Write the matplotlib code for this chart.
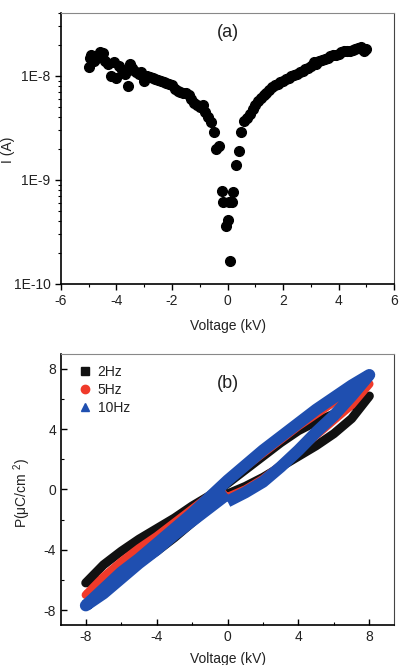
import matplotlib
matplotlib.use('Agg')
import matplotlib.pyplot as plt
from matplotlib.lines import Line2D
from matplotlib.ticker import FixedLocator, FuncFormatter, LogLocator, NullFormatter

plt.rcParams['font.family'] = ['Liberation Sans', 'DejaVu Sans']
plt.rcParams['mathtext.fontset'] = 'custom'
plt.rcParams['mathtext.rm'] = 'Liberation Sans'
plt.rcParams['mathtext.it'] = 'Liberation Sans:italic'
plt.rcParams['axes.unicode_minus'] = False

# (a) I-V data
volt_iv = [-5.0, -4.95, -4.9, -4.8, -4.75, -4.7, -4.6, -4.55, -4.5, -4.4, -4.3, -4.2, -4.1,
           -4.0, -3.9, -3.8, -3.7, -3.6, -3.5, -3.45, -3.4, -3.3, -3.2, -3.1, -3.0, -2.9,
           -2.8, -2.7, -2.6, -2.5, -2.4, -2.3, -2.2, -2.1, -2.0, -1.9, -1.8, -1.7, -1.6,
           -1.5, -1.4, -1.3, -1.2, -1.1, -1.0, -0.9, -0.8, -0.7, -0.6, -0.5, -0.4, -0.3,
           -0.2, -0.15, -0.05, 0.0, 0.05, 0.1, 0.15, 0.2, 0.3, 0.4, 0.5, 0.6, 0.7, 0.8,
           0.9, 1.0, 1.1, 1.2, 1.3, 1.4, 1.5, 1.6, 1.7, 1.8, 1.9, 2.0, 2.1, 2.2, 2.3, 2.4,
           2.5, 2.6, 2.7, 2.8, 2.9, 3.0, 3.1, 3.2, 3.3, 3.4, 3.5, 3.6, 3.7, 3.8, 3.9, 4.0,
           4.1, 4.2, 4.3, 4.4, 4.5, 4.6, 4.7, 4.8, 4.85, 4.9, 5.0]
curr_iv = [1.22e-8, 1.5e-8, 1.6e-8, 1.4e-8, 1.55e-8, 1.5e-8, 1.7e-8, 1.6e-8, 1.65e-8, 1.4e-8,
           1.3e-8, 1.0e-8, 1.35e-8, 9.5e-9, 1.25e-8, 1.15e-8, 1.05e-8, 8.0e-9, 1.3e-8, 1.2e-8,
           1.15e-8, 1.1e-8, 1.05e-8, 1.1e-8, 9.0e-9, 1.0e-8, 9.7e-9, 9.5e-9, 9.3e-9, 9.1e-9,
           8.9e-9, 8.7e-9, 8.5e-9, 8.3e-9, 8.2e-9, 7.5e-9, 7.2e-9, 7.0e-9, 6.8e-9, 6.9e-9,
           6.6e-9, 6.0e-9, 5.5e-9, 5.2e-9, 5.0e-9, 5.2e-9, 4.5e-9, 4.0e-9, 3.6e-9, 2.9e-9,
           2.0e-9, 2.1e-9, 7.8e-10, 6.2e-10, 3.6e-10, 4.1e-10, 6.2e-10, 1.65e-10, 6.2e-10,
           7.6e-10, 1.4e-9, 1.9e-9, 2.9e-9, 3.7e-9, 3.9e-9, 4.3e-9, 4.8e-9, 5.3e-9, 5.7e-9,
           6.1e-9, 6.5e-9, 6.9e-9, 7.3e-9, 7.8e-9, 8.1e-9, 8.4e-9, 8.7e-9, 9.0e-9, 9.3e-9,
           9.6e-9, 9.9e-9, 1.02e-8, 1.05e-8, 1.08e-8, 1.12e-8, 1.17e-8, 1.2e-8, 1.25e-8,
           1.35e-8, 1.3e-8, 1.38e-8, 1.42e-8, 1.46e-8, 1.5e-8, 1.55e-8, 1.58e-8, 1.6e-8,
           1.62e-8, 1.68e-8, 1.72e-8, 1.74e-8, 1.75e-8, 1.78e-8, 1.8e-8, 1.84e-8, 1.9e-8,
           1.8e-8, 1.75e-8, 1.82e-8]

# (b) P-E loops (path order: virgin branch 0->8, descending 8->-8, ascending -8->0)
volt_loop = [0, 1, 2, 3, 4, 5, 6, 7, 8,
             7, 6, 5, 4, 3, 2, 1, 0, -1, -2, -3, -4, -5, -6, -7, -8,
             -7, -6, -5, -4, -3, -2, -1, 0]
pol_2hz = [-0.3, 0.2, 0.8, 1.5, 2.2, 2.9, 3.7, 4.7, 6.2,
           5.6, 5.0, 4.5, 3.9, 3.1, 2.2, 1.3, 0.4, -0.4, -1.1, -1.9, -2.6, -3.3, -4.1, -5.0, -6.2,
           -6.0, -5.6, -4.9, -4.1, -3.2, -2.2, -1.2, -0.1]
pol_5hz = [-0.5, 0.0, 0.7, 1.6, 2.6, 3.6, 4.6, 5.6, 7.0,
           6.5, 5.8, 5.0, 4.2, 3.3, 2.4, 1.5, 0.6, -0.4, -1.3, -2.2, -3.1, -3.9, -4.8, -5.8, -7.0,
           -6.4, -5.7, -4.8, -3.9, -2.9, -2.0, -1.1, -0.2]
pol_10hz = [-0.8, -0.2, 0.5, 1.5, 2.6, 3.8, 4.9, 6.2, 7.6,
            6.9, 6.1, 5.3, 4.4, 3.5, 2.6, 1.6, 0.6, -0.5, -1.6, -2.6, -3.6, -4.6, -5.5, -6.6, -7.7,
            -6.9, -5.9, -4.9, -4.0, -3.0, -2.1, -1.2, -0.3]
freq_labels = ['2Hz', '5Hz', '10Hz']
freq_colors = ['#111111', '#f03a2a', '#1f4fb0']
freq_markers = ['s', 'o', '^']
freq_widths = [6.5, 6.0, 8.5]

fig = plt.figure(figsize=(4.01, 6.65), dpi=100)
txt = '#222222'

# ---- panel (a)
ax1 = fig.add_axes([0.152, 0.573, 0.831, 0.407])
ax1.plot(volt_iv, curr_iv, 'o', color='black', ms=7)
ax1.set_yscale('log')
ax1.set_xlim(-6, 6)
ax1.set_ylim(1e-10, 4e-8)
ax1.set_xticks([-6, -4, -2, 0, 2, 4, 6])
ax1.set_xticks([-5, -3, -1, 1, 3, 5], minor=True)
ax1.yaxis.set_major_locator(FixedLocator([1e-10, 1e-9, 1e-8]))
ax1.yaxis.set_major_formatter(FuncFormatter(lambda v, p: {1e-10: '1E-10', 1e-9: '1E-9', 1e-8: '1E-8'}.get(v, '')))
ax1.yaxis.set_minor_locator(LogLocator(base=10, subs=range(2, 10)))
ax1.yaxis.set_minor_formatter(NullFormatter())
ax1.tick_params(which='both', direction='out', labelsize=10, labelcolor=txt, top=False, right=False)
ax1.tick_params(which='major', length=4, width=1)
ax1.tick_params(which='minor', length=2.5, width=0.8)
ax1.text(0.5, 0.93, '(a)', transform=ax1.transAxes, ha='center', va='center', fontsize=13, color=txt)
fig.text(228 / 401, 1 - 326 / 665, 'Voltage (kV)', ha='center', va='center', fontsize=10, color=txt)
fig.text(8 / 401, 1 - 150 / 665, 'I (A)', ha='center', va='center', rotation=90, fontsize=10, color=txt)

# ---- panel (b)
ax2 = fig.add_axes([0.152, 0.060, 0.831, 0.408])
for p, c, w in zip([pol_2hz, pol_5hz, pol_10hz], freq_colors, freq_widths):
    ax2.plot(volt_loop, p, '-', color=c, lw=w, solid_capstyle='butt', solid_joinstyle='round')
ax2.set_xlim(-9.4, 9.4)
ax2.set_ylim(-9, 9)
ax2.set_xticks([-8, -4, 0, 4, 8])
ax2.set_xticks([-6, -2, 2, 6], minor=True)
ax2.set_yticks([-8, -4, 0, 4, 8])
ax2.set_yticks([-6, -2, 2, 6], minor=True)
ax2.tick_params(which='both', direction='in', labelsize=10, labelcolor=txt, top=False, right=False)
ax2.tick_params(which='major', length=4, width=1)
ax2.tick_params(which='minor', length=2.5, width=0.8)
ax2.text(0.5, 0.89, '(b)', transform=ax2.transAxes, ha='center', va='center', fontsize=13, color=txt)
handles = [Line2D([], [], ls='none', marker=m, color=c, ms=6) for m, c in zip(freq_markers, freq_colors)]
ax2.legend(handles, freq_labels, loc='upper left', bbox_to_anchor=(0.018, 1.0), frameon=False,
           fontsize=10, handlelength=1.0, handletextpad=0.4, labelspacing=0.3,
           borderaxespad=0.4, labelcolor=txt)
fig.text(228 / 401, 1 - 659 / 665, 'Voltage (kV)', ha='center', va='center', fontsize=10, color=txt)
fig.text(22 / 401, 1 - 493 / 665, 'P(μC/cm $^{2}$)', ha='center', va='center', rotation=90, fontsize=10, color=txt)

for ax in (ax1, ax2):
    ax.spines['top'].set_color('#888888')
    ax.spines['right'].set_color('#444444')
    ax.spines['right'].set_linewidth(0.8)
    ax.spines['left'].set_linewidth(1.2)
    ax.spines['bottom'].set_linewidth(1.2)

fig.savefig('out.png', dpi=100)
